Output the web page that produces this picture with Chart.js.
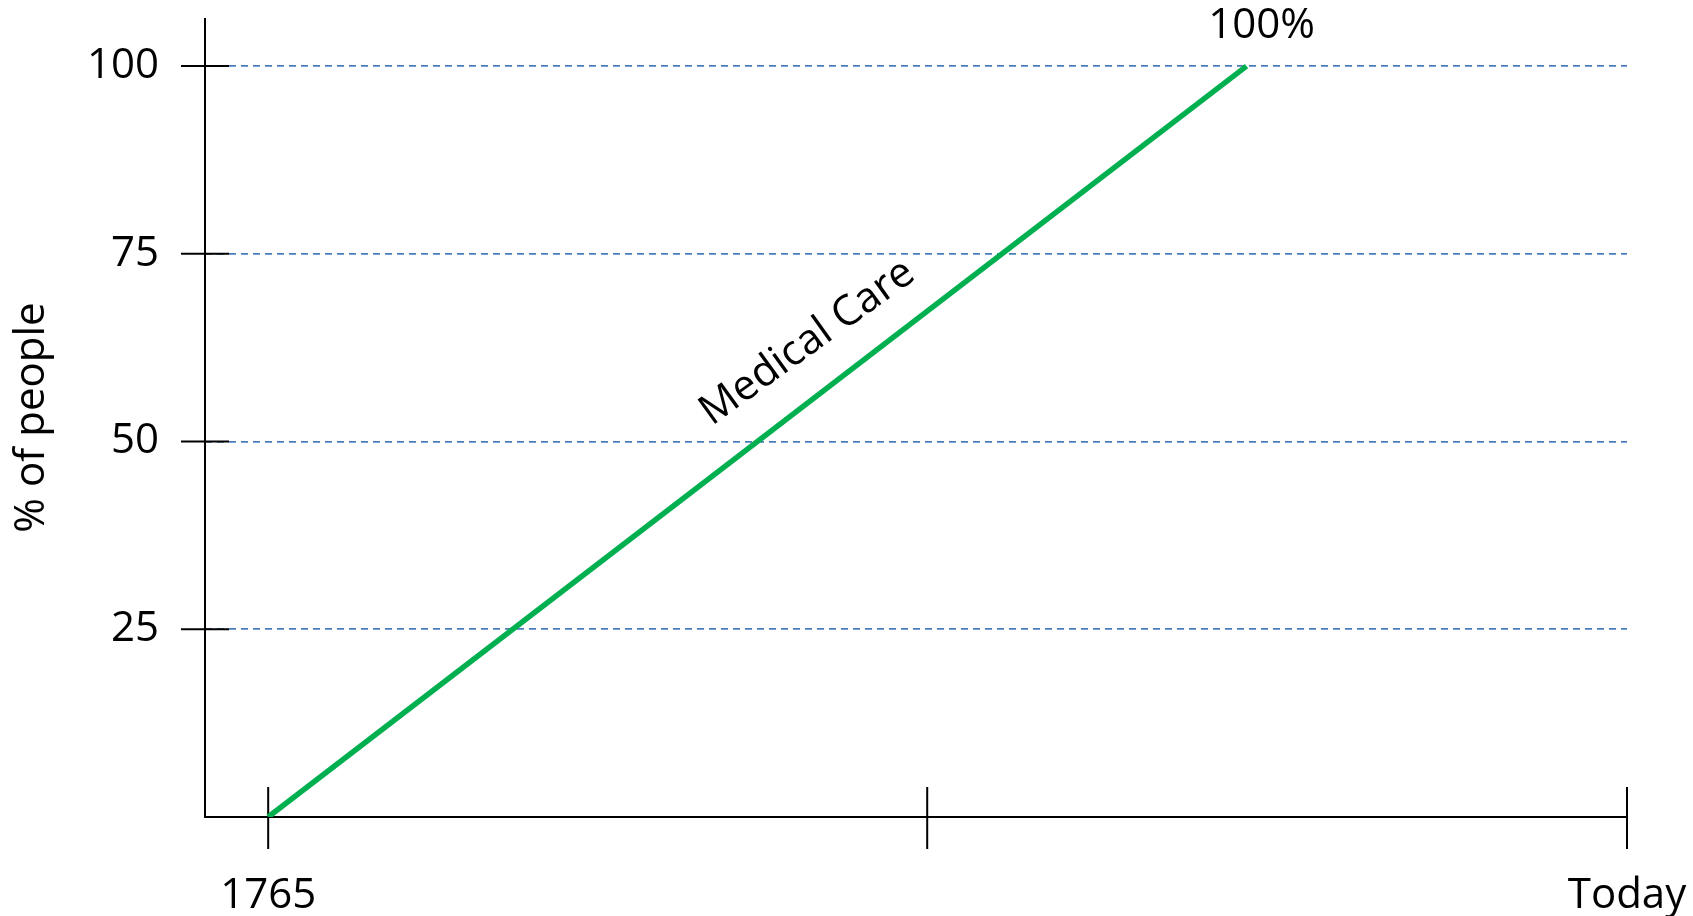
<!DOCTYPE html>
<html>
<head>
<meta charset="utf-8">
<script src="https://cdn.jsdelivr.net/npm/chart.js@4.4.0/dist/chart.umd.min.js"></script>
<style>
  body { margin: 0; background: #fff; }
  #wrap { width: 1693px; height: 916px; }
</style>
</head>
<body>
<div id="wrap"><canvas id="care"></canvas></div>
<script>
// x runs from 1765 (0) to today (2)
var xTicks = [0, 0.97, 2];
var xLabels = ["1765", "", "Today"];
var yTicks = [25, 50, 75, 100];
var careX = [0, 1.44];
var careY = [0, 100];
var seriesName = "Medical Care";
var endLabel = "100%";

var font = { family: "'Open Sans', sans-serif", size: 42 };

// axes, tick marks and text labels
var decor = {
  id: "decor",
  beforeDatasetsDraw: function (chart) {
    var ctx = chart.ctx, a = chart.chartArea;
    var xs = chart.scales.x, ys = chart.scales.y;
    var y0 = ys.getPixelForValue(0);
    ctx.save();
    ctx.strokeStyle = "#000";
    ctx.lineWidth = 2;
    ctx.beginPath();
    ctx.moveTo(a.left, a.top);
    ctx.lineTo(a.left, y0);
    ctx.lineTo(a.right, y0);
    yTicks.forEach(function (v) {
      var p = ys.getPixelForValue(v);
      ctx.moveTo(a.left - 24, p);
      ctx.lineTo(a.left + 24, p);
    });
    xTicks.forEach(function (v) {
      var p = xs.getPixelForValue(v);
      ctx.moveTo(p, y0 - 30);
      ctx.lineTo(p, y0 + 32);
    });
    ctx.stroke();
    ctx.restore();
  },
  afterDatasetsDraw: function (chart) {
    var ctx = chart.ctx;
    var xs = chart.scales.x, ys = chart.scales.y;
    var x1 = xs.getPixelForValue(careX[0]), y1 = ys.getPixelForValue(careY[0]);
    var x2 = xs.getPixelForValue(careX[1]), y2 = ys.getPixelForValue(careY[1]);
    ctx.save();
    ctx.fillStyle = "#000";
    ctx.font = font.size + "px " + font.family;
    ctx.textAlign = "center";
    ctx.textBaseline = "middle";
    ctx.fillText(endLabel, x2 + 15, y2 - 40);
    // series name along the line
    var t = 0.58;
    var mx = x1 + (x2 - x1) * t, my = y1 + (y2 - y1) * t;
    var ang = Math.atan2(y2 - y1, x2 - x1);
    ctx.translate(mx, my);
    ctx.rotate(ang + 0.03);
    ctx.fillText(seriesName, 0, -48);
    ctx.restore();
  }
};

new Chart("care", {
  type: "line",
  data: {
    datasets: [{
      label: seriesName,
      data: careX.map(function (x, i) { return { x: x, y: careY[i] }; }),
      borderColor: "#00b050",
      borderWidth: 5.5,
      pointRadius: 0,
      fill: false
    }]
  },
  options: {
    responsive: true,
    maintainAspectRatio: false,
    animation: false,
    layout: { padding: { left: 0, top: 18, right: 66, bottom: 0 } },
    plugins: { legend: { display: false }, tooltip: { enabled: false } },
    scales: {
      x: {
        type: "linear",
        min: -0.093,
        max: 2,
        afterBuildTicks: function (s) { s.ticks = xTicks.map(function (v) { return { value: v }; }); },
        afterFit: function (s) { s.height = 99; s.paddingLeft = 0; s.paddingRight = 0; },
        grid: { display: false, drawTicks: false },
        border: { display: false },
        ticks: {
          autoSkip: false,
          maxRotation: 0,
          padding: 54,
          color: "#000",
          font: font,
          callback: function (v) { var i = xTicks.indexOf(v); return i < 0 ? "" : xLabels[i]; }
        }
      },
      y: {
        min: 0,
        max: 106.4,
        afterBuildTicks: function (s) { s.ticks = yTicks.map(function (v) { return { value: v }; }); },
        afterFit: function (s) { s.width = 205; s.paddingTop = 0; s.paddingBottom = 0; },
        grid: { color: "#4a7ebb", lineWidth: 1.8, drawTicks: false },
        border: { display: false, dash: [7, 5] },
        ticks: { padding: 46, color: "#000", font: font },
        title: {
          display: true,
          text: "% of people",
          color: "#000",
          font: font,
          padding: { top: 7, bottom: 0 }
        }
      }
    }
  },
  plugins: [decor]
});
</script>
</body>
</html>
